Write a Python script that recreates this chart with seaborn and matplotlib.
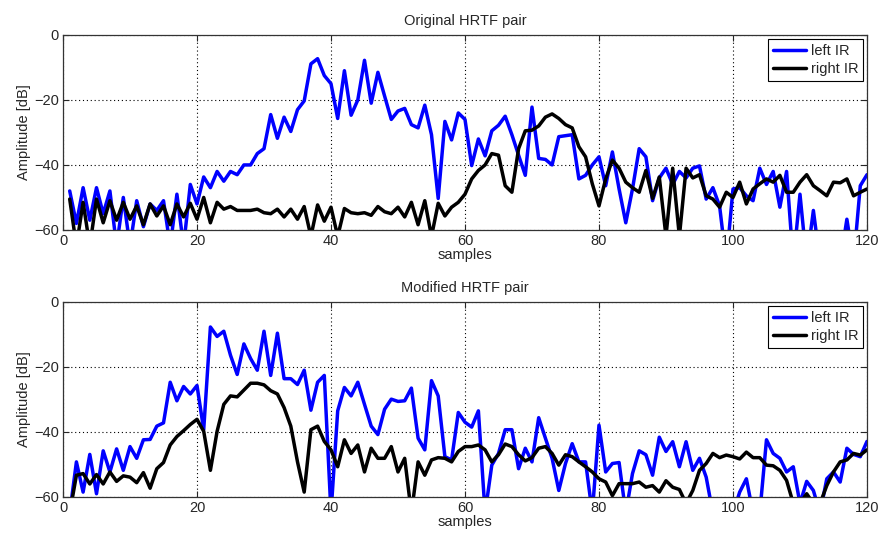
import matplotlib.pyplot as plt
import numpy as np
import pandas as pd
import seaborn as sns

# ---- Data (dB, samples 1..120; values < -60 fall off the axis) ----
samples = np.arange(1, 121)

orig_left = [
    -48, -58, -47, -57, -47, -55, -48, -65, -50, -65, -51, -59, -52, -54, -51, -65, -49, -65, -46, -52,
    -43.7, -47, -42, -45, -42, -43, -40, -40, -36.5, -35, -24.5, -31.8, -25.3, -29.7, -23, -20.3, -8.9, -7.3, -12.5, -15,
    -25.7, -11, -24.7, -20, -7.8, -21, -11.5, -18.8, -26, -23.4, -22.6, -27.6, -28.6, -21.6, -30.7, -50.3, -26.6, -32.3, -24, -26,
    -40.2, -32, -37.2, -29.5, -27.8, -25, -30.7, -37, -43.2, -22.2, -38, -38.3, -40, -31.3, -31, -30.7, -44.3, -43.2, -40, -37.5,
    -46.4, -36, -47.4, -57.8, -47.4, -35, -37.5, -51, -44, -41, -46, -42, -44, -41, -40.3, -50.5, -47, -52.6, -70, -47.4,
    -47, -49.5, -51, -41, -46, -42, -53, -42, -70, -49, -70, -54, -70, -70, -70, -70, -56.7, -70, -46.4, -43,
]
orig_right = [
    -50.5, -65, -51.5, -65, -50.5, -57.8, -51, -57, -51.5, -56.7, -52.6, -58.4, -52, -55.7, -52.6, -58.4, -52, -56, -51.8, -56.7,
    -50, -57.8, -51.5, -53.6, -52.8, -54, -54, -54, -53.6, -54.7, -55, -53.6, -56, -53.6, -56.7, -52.8, -62, -52.3, -57.3, -53,
    -62, -53.4, -54.7, -55, -54.7, -55.5, -52.8, -54.4, -55, -53, -56, -51.5, -58.4, -51, -62, -51.8, -55.7, -53, -51.5, -49,
    -44.3, -41.7, -40, -36.5, -37, -46.4, -48.4, -35, -29.5, -29.3, -28, -25.3, -24.3, -25.7, -27.6, -28.6, -34.4, -37.5, -45.8, -52.6,
    -44.3, -38.5, -41, -45.3, -47, -48.4, -41.7, -50.3, -43.7, -62, -41, -62, -41, -44, -43, -49.5, -50.5, -53, -48.4, -50,
    -45.3, -52, -47.4, -45.8, -44.3, -45.3, -43.2, -48.4, -48.4, -45.3, -43, -46.4, -47.9, -49.5, -45.3, -45.5, -44.3, -49.5, -48.4, -47.4,
]
mod_left = [
    -65, -49.2, -58.5, -46.9, -59, -45.8, -52.3, -45.2, -51.8, -44.5, -48.1, -42.4, -42.3, -38.2, -37.2, -24.7, -30.4, -26, -28.3, -25.7,
    -39.3, -7.7, -10.6, -9, -16.4, -22.3, -12.9, -17.4, -21, -9, -22.6, -9.6, -23.6, -23.6, -25.4, -21, -33.3, -24.7, -22.6, -65,
    -33.5, -26.3, -28.9, -24.7, -31.5, -38.2, -40.8, -33, -29.9, -30.6, -30.4, -26.5, -41.9, -45.5, -24.2, -28.9, -47.6, -48.6, -34, -37,
    -38.5, -33.5, -65, -50.2, -46.6, -39.3, -39.3, -51.3, -45, -49.2, -35.6, -41.9, -48.1, -58, -49.7, -43.6, -49.2, -49.2, -65, -37.9,
    -52.3, -49.7, -49.4, -65, -52.8, -45.8, -47, -53.3, -41.6, -46, -43, -50.7, -43, -51.8, -48.1, -53.9, -65, -65, -65, -65,
    -58.5, -54.4, -65, -65, -42.4, -46.6, -48.1, -52.3, -50.7, -62, -55.2, -58, -65, -54.4, -52.3, -55.4, -45, -46.9, -47.6, -42.9,
]
mod_right = [
    -65, -53.3, -52.8, -56, -53.1, -56, -52.3, -55.2, -53.5, -53.9, -55.6, -52.5, -57.3, -51.3, -49.4, -44, -41.4, -39.6, -37.7, -36.1,
    -39.8, -51.8, -39.8, -31.5, -28.9, -29.2, -27.1, -25, -25, -25.5, -27.3, -28.3, -32.5, -38.2, -49.2, -58.5, -39.3, -38.2, -42.9, -45.5,
    -50.7, -42.4, -46.6, -44, -52.3, -45, -48.1, -48.1, -44.5, -52.3, -48.1, -65, -49.2, -53.3, -48.6, -47.9, -48.1, -49.2, -46, -44.5,
    -44.5, -44, -45.5, -49.2, -47, -43.7, -44.5, -47, -48.9, -47.9, -45, -44.5, -46.6, -50.2, -47, -47.6, -49.2, -50.7, -52.3, -54.4,
    -55.4, -59.6, -55.9, -55.9, -55.9, -55.4, -57, -56.5, -58.5, -55, -57, -57.7, -62, -58, -51.8, -49.7, -46.6, -47.9, -47.1, -47.6,
    -48.3, -46.2, -47.9, -47.9, -50.2, -50.4, -51.8, -54.9, -62, -62, -59, -62, -62, -56.5, -52.3, -49.2, -48.6, -46.6, -47.1, -45.5,
]

titles = ["Original HRTF pair", "Modified HRTF pair"]
series = [(orig_left, orig_right), (mod_left, mod_right)]
labels = ["left IR", "right IR"]
palette = {"left IR": "#0000ff", "right IR": "#000000"}

sns.set_style("white")
plt.rcParams['font.family'] = ['Liberation Sans', 'DejaVu Sans']
fs = 10.5

fig = plt.figure(figsize=(8.8, 5.36), dpi=100)
ax_pos = [[0.0716, 0.571, 0.9136, 0.3638], [0.0716, 0.0728, 0.9136, 0.3638]]

for pos, title, (left, right) in zip(ax_pos, titles, series):
    ax = fig.add_axes(pos)
    df = pd.DataFrame({
        "samples": np.concatenate([samples, samples]),
        "dB": np.concatenate([left, right]),
        "channel": [labels[0]] * len(samples) + [labels[1]] * len(samples),
    })
    sns.lineplot(data=df, x="samples", y="dB", hue="channel", palette=palette,
                 linewidth=2.5, ax=ax)
    ax.set_xlim(0, 120)
    ax.set_ylim(-60, 0)
    ax.set_xticks([0, 20, 40, 60, 80, 100, 120])
    ax.set_yticks([-60, -40, -20, 0])
    ax.set_yticklabels(["\u221260", "\u221240", "\u221220", "0"])
    ax.grid(True, linestyle=(0, (1, 2.5)), color="black", linewidth=0.8)
    ax.tick_params(direction="in", length=4, labelsize=fs, top=True, right=True,
                   bottom=True, left=True, labeltop=False, labelright=False, pad=3)
    for sp in ax.spines.values():
        sp.set_color("#333333")
        sp.set_linewidth(0.9)
    ax.set_title(title, fontsize=fs, pad=7)
    ax.set_xlabel("samples", fontsize=fs, labelpad=0)
    ax.set_ylabel("Amplitude [dB]", fontsize=fs, labelpad=2)
    leg = ax.legend(loc="upper right", fontsize=fs, handlelength=2.3, fancybox=False,
                    framealpha=1, edgecolor="black", borderpad=0.35, labelspacing=0.3,
                    handletextpad=0.3, borderaxespad=0.25)
    leg.get_frame().set_linewidth(0.8)

fig.savefig("out.png", dpi=100)
